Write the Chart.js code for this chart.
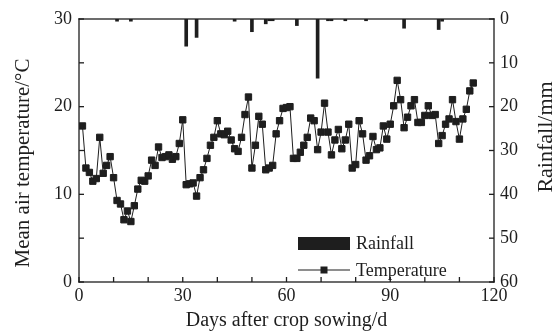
<!DOCTYPE html>
<html>
<head>
<meta charset="utf-8">
<script src="https://cdn.jsdelivr.net/npm/chart.js@4.4.1/dist/chart.umd.min.js"></script>
<style>
  body { margin: 0; background: #fff; }
</style>
</head>
<body>
<canvas id="myChart" width="560" height="331"></canvas>
<script>
// days after sowing (x) and daily mean air temperature
const days = [1, 2, 3, 4, 5, 6, 7, 8, 9, 10, 11, 12, 13, 14, 15, 16, 17, 18, 19, 20,
  21, 22, 23, 24, 25, 26, 27, 28, 29, 30, 31, 32, 33, 34, 35, 36, 37, 38, 39, 40,
  41, 42, 43, 44, 45, 46, 47, 48, 49, 50, 51, 52, 53, 54, 55, 56, 57, 58, 59, 60,
  61, 62, 63, 64, 65, 66, 67, 68, 69, 70, 71, 72, 73, 74, 75, 76, 77, 78, 79, 80,
  81, 82, 83, 84, 85, 86, 87, 88, 89, 90, 91, 92, 93, 94, 95, 96, 97, 98, 99, 100,
  101, 102, 103, 104, 105, 106, 107, 108, 109, 110, 111, 112, 113, 114];
const temperature = [17.8, 13.0, 12.5, 11.5, 11.8, 16.5, 12.4, 13.3, 14.3, 11.9,
  9.3, 8.9, 7.1, 8.1, 6.9, 8.7, 10.6, 11.6, 11.5, 12.1,
  13.9, 13.3, 15.4, 14.2, 14.3, 14.5, 14.0, 14.3, 15.8, 18.5,
  11.1, 11.2, 11.3, 9.8, 11.9, 12.8, 14.1, 15.6, 16.5, 18.4,
  16.9, 16.8, 17.2, 16.2, 15.2, 14.9, 16.5, 19.1, 21.1, 13.0,
  15.6, 18.9, 18.0, 12.8, 13.0, 13.3, 16.9, 18.4, 19.8, 19.9,
  20.0, 14.1, 14.1, 14.8, 15.6, 16.5, 18.7, 18.4, 15.1, 17.1,
  20.4, 17.1, 14.5, 16.2, 17.4, 15.2, 16.2, 18.0, 13.0, 13.4,
  18.4, 16.9, 13.9, 14.4, 16.6, 15.1, 15.3, 17.8, 16.3, 18.0,
  20.1, 23.0, 20.8, 17.6, 18.8, 20.1, 20.8, 18.2, 18.2, 19.0,
  20.1, 19.0, 19.1, 15.8, 16.7, 18.0, 18.6, 20.8, 18.3, 16.3,
  18.6, 19.7, 21.8, 22.7];

// rain days and amounts (mm)
const rainDays = [11, 15, 31, 34, 45, 50, 54, 55, 56, 63, 69, 72, 73, 77, 83, 94, 104, 105];
const rainfall = [0.5, 0.5, 6.2, 4.2, 0.5, 2.9, 1.1, 0.4, 0.4, 1.5, 13.5, 0.4, 0.4, 0.4, 0.4, 2.1, 2.4, 0.5];

const tempTicks = [0, 10, 20, 30];
const dayTicks = [0, 30, 60, 90, 120];

const ink = '#1e1e1e';
const serif = '"Liberation Serif", "DejaVu Serif", serif';

// box, inward ticks, axis titles and legend
const frame = {
  id: 'frame',
  afterDraw(chart) {
    const c = chart.ctx;
    const sx = chart.scales.x, sy = chart.scales.y, sr = chart.scales.y2;
    const L = sx.left, R = sx.right, T = sy.top, B = sy.bottom;
    const w = 1.3;
    c.save();
    c.fillStyle = ink;
    c.fillRect(L - w / 2, T - w / 2, R - L + w, w);
    c.fillRect(L - w / 2, B - w / 2, R - L + w, w);
    c.fillRect(L - w / 2, T - w / 2, w, B - T + w);
    c.fillRect(R - w / 2, T - w / 2, w, B - T + w);

    sx.ticks.forEach(t => {
      const px = sx.getPixelForValue(t.value);
      c.fillRect(px - w / 2, B - 5, w, 5);
    });
    sy.ticks.forEach(t => {
      const py = sy.getPixelForValue(t.value);
      c.fillRect(L, py - w / 2, 5, w);
    });
    sr.ticks.forEach(t => {
      const py = sr.getPixelForValue(t.value);
      c.fillRect(R - 5, py - w / 2, 5, w);
    });

    // axis titles
    c.font = '20px ' + serif;
    c.textAlign = 'center';
    c.textBaseline = 'alphabetic';
    c.fillText('Days after crop sowing/d', (L + R) / 2, 326);

    c.save();
    c.translate(29, 163);
    c.rotate(-Math.PI / 2);
    c.font = '21px ' + serif;
    c.fillText('Mean air temperature/\u00B0C', 0, 0);
    c.restore();

    c.save();
    c.translate(552, 137);
    c.rotate(-Math.PI / 2);
    c.font = '22px ' + serif;
    c.fillText('Rainfall/mm', 0, 0);
    c.restore();

    // legend
    c.fillRect(298, 237, 52, 13);
    c.fillRect(298, 269.5, 52, 1);
    c.fillRect(320.5, 266.5, 7, 7);
    c.font = '18px ' + serif;
    c.textAlign = 'left';
    c.textBaseline = 'middle';
    c.fillText('Rainfall', 356, 244);
    c.fillText('Temperature', 356, 271);
    c.restore();
  }
};

const ctx = document.getElementById('myChart').getContext('2d');

const data = {
  datasets: [{
    type: 'line',
    label: 'Temperature',
    data: days.map((d, i) => ({ x: d, y: temperature[i] })),
    yAxisID: 'y',
    borderColor: ink,
    backgroundColor: ink,
    borderWidth: 1,
    pointStyle: 'rect',
    pointRadius: 4.5,
    pointBorderWidth: 1,
    tension: 0,
    order: 1
  }, {
    type: 'bar',
    label: 'Rainfall',
    data: rainDays.map((d, i) => ({ x: d, y: rainfall[i] })),
    yAxisID: 'y2',
    backgroundColor: ink,
    borderWidth: 0,
    barThickness: 3,
    order: 2
  }]
};

const tickFont = { family: serif, size: 18 };

const config = {
  data: data,
  options: {
    responsive: false,
    animation: false,
    layout: { padding: { top: 19, left: 0, right: 0, bottom: 0 } },
    plugins: {
      legend: { display: false },
      tooltip: { enabled: false }
    },
    scales: {
      x: {
        type: 'linear',
        offset: false,
        min: 0,
        max: 120,
        grid: { display: false, drawTicks: false, offset: false },
        border: { display: false },
        ticks: {
          stepSize: 10,
          autoSkip: false,
          maxRotation: 0,
          padding: 3,
          color: ink,
          font: tickFont,
          callback: v => dayTicks.includes(v) ? v : ''
        },
        afterFit: s => { s.height = 49; }
      },
      y: {
        position: 'left',
        min: 0,
        max: 30,
        grid: { display: false, drawTicks: false },
        border: { display: false },
        ticks: {
          stepSize: 5,
          padding: 7,
          color: ink,
          font: tickFont,
          callback: v => tempTicks.includes(v) ? v : ''
        },
        afterFit: s => { s.width = 79; }
      },
      y2: {
        position: 'right',
        reverse: true,
        min: 0,
        max: 60,
        grid: { display: false, drawTicks: false },
        border: { display: false },
        ticks: {
          stepSize: 10,
          padding: 6,
          color: ink,
          font: tickFont
        },
        afterFit: s => { s.width = 66; }
      }
    }
  },
  plugins: [frame]
};

const myChart = new Chart(ctx, config);
</script>
</body>
</html>
